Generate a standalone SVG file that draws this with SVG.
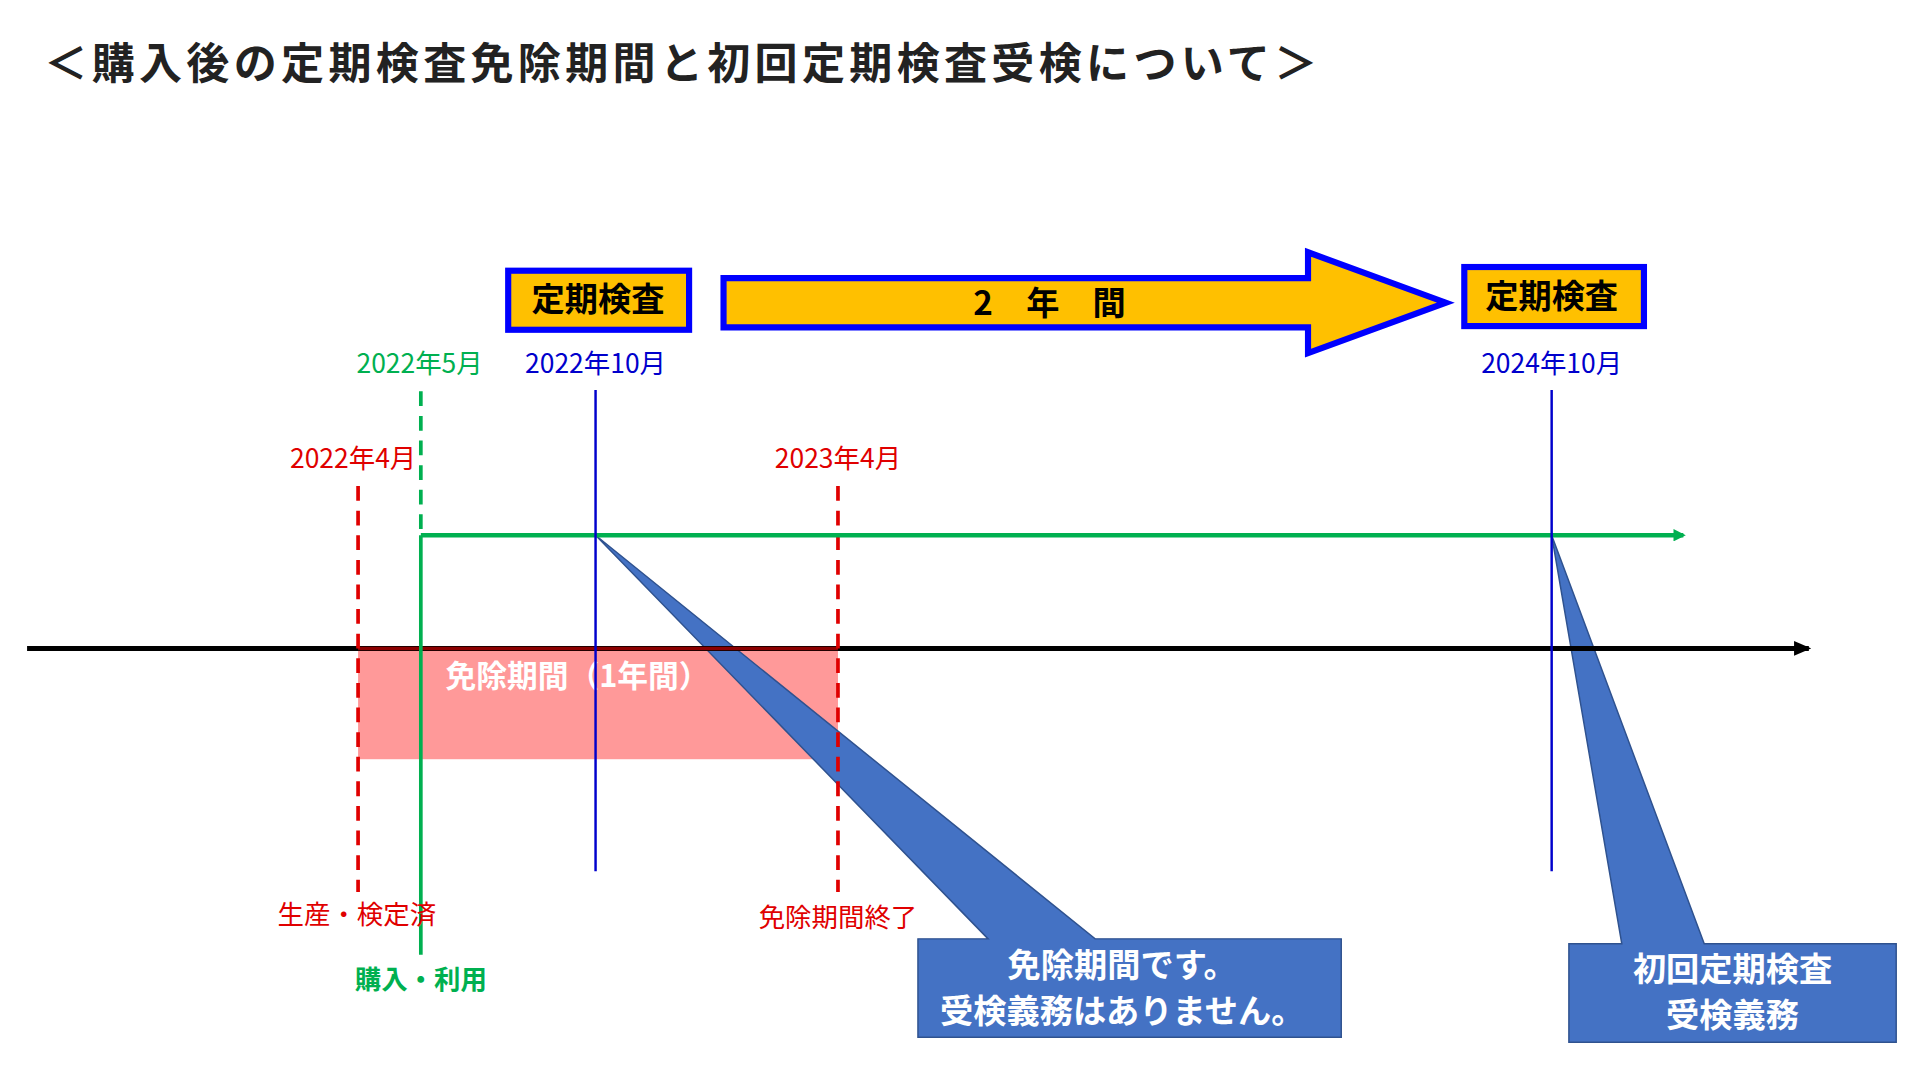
<svg xmlns="http://www.w3.org/2000/svg" width="1928" height="1092" viewBox="0 0 1928 1092">
<defs>
<style>
text{font-family:"Noto Sans CJK JP","Liberation Sans",sans-serif}
.b{font-weight:bold}
.lab{font-size:21.5px}
.box{fill:#FFC000;stroke:#0000FF;stroke-width:5}
.call{fill:#4472C4;stroke:#2F528F;stroke-width:1.2}
.wt{fill:#fff;font-size:27px;font-weight:bold;text-anchor:middle}
</style>
<marker id="ag" markerWidth="10" markerHeight="10" refX="8" refY="5" orient="auto" markerUnits="userSpaceOnUse" viewBox="0 0 10 10"><path d="M0,0 L10,5 L0,10 z" fill="#00B050"/></marker>
<marker id="ak" markerWidth="14" markerHeight="12" refX="12" refY="6" orient="auto" markerUnits="userSpaceOnUse" viewBox="0 0 14 12"><path d="M0,0 L14,6 L0,12 z" fill="#000"/></marker>
</defs>
<rect width="1928" height="1092" fill="#fff"/>
<g transform="scale(1.2305)">
<text x="36" y="64" class="b" font-size="35" letter-spacing="3.5" fill="#222">＜購入後の定期検査免除期間と初回定期検査受検について＞</text>
<g id="exempt">
<rect x="291" y="527" width="390" height="90" fill="#FF9999"/>
<text x="362" y="558" class="b" font-size="25" fill="#fff">免除期間（1年間）</text>
</g>
<g id="callout1">
<path class="call" d="M484,435 L890,763 L1090,763 L1090,843 L746,843 L746,763 L803,763 Z"/>
<text x="912" y="794" class="wt">免除期間です。</text>
<text x="912" y="831" class="wt">受検義務はありません。</text>
</g>
<g id="callout2">
<path class="call" d="M1261,435 L1385,767 L1541,767 L1541,847 L1275,847 L1275,767 L1318,767 Z"/>
<text x="1408" y="797" class="wt">初回定期検査</text>
<text x="1408" y="835" class="wt">受検義務</text>
</g>
<g id="connectors">
<line x1="22" y1="527" x2="1470" y2="527" stroke="#000" stroke-width="4" marker-end="url(#ak)"/>
<line x1="291" y1="527" x2="681" y2="527" stroke="#8B0000" stroke-width="3"/>
<line x1="291" y1="395" x2="291" y2="725" stroke="#E00000" stroke-width="3" stroke-dasharray="12,8"/>
<line x1="681" y1="395" x2="681" y2="725" stroke="#E00000" stroke-width="3" stroke-dasharray="12,8"/>
<line x1="342" y1="318" x2="342" y2="435" stroke="#00B050" stroke-width="3" stroke-dasharray="12,8"/>
<line x1="342" y1="435" x2="342" y2="776" stroke="#00B050" stroke-width="3"/>
<line x1="342" y1="435" x2="1368" y2="435" stroke="#00B050" stroke-width="3.5" marker-end="url(#ag)"/>
<line x1="484" y1="317" x2="484" y2="708" stroke="#0000CC" stroke-width="2"/>
<line x1="1261" y1="317" x2="1261" y2="708" stroke="#0000CC" stroke-width="2"/>
</g>
<g id="box1"><rect class="box" x="413" y="220" width="147" height="48"/><text x="486" y="253" class="b" font-size="27" text-anchor="middle">定期検査</text></g>
<g id="arrow2y"><path class="box" d="M588,226 L1063,226 L1063,205 L1175,246 L1063,287 L1063,266 L588,266 Z"/><text x="853" y="256" class="b" font-size="27" text-anchor="middle">2　年　間</text></g>
<g id="box2"><rect class="box" x="1190" y="217" width="146" height="48"/><text x="1261" y="250" class="b" font-size="27" text-anchor="middle">定期検査</text></g>
<g id="labels">
<text x="341" y="303" class="lab" fill="#00B050" text-anchor="middle">2022年5月</text>
<text x="484" y="303" class="lab" fill="#0000CC" text-anchor="middle">2022年10月</text>
<text x="1261" y="303" class="lab" fill="#0000CC" text-anchor="middle">2024年10月</text>
<text x="287" y="380" class="lab" fill="#E00000" text-anchor="middle">2022年4月</text>
<text x="681" y="380" class="lab" fill="#E00000" text-anchor="middle">2023年4月</text>
<text x="290" y="751" class="lab" fill="#E00000" text-anchor="middle">生産・検定済</text>
<text x="681" y="753" class="lab" fill="#E00000" text-anchor="middle">免除期間終了</text>
<text x="342" y="804" class="lab b" fill="#00B050" text-anchor="middle">購入・利用</text>
</g>
</g>
</svg>
